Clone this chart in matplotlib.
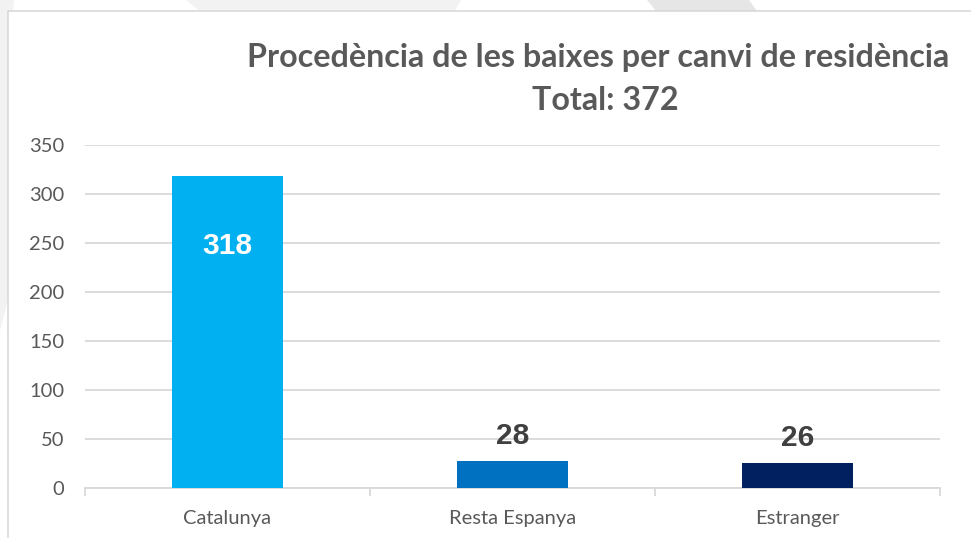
import matplotlib
matplotlib.use("Agg")
import matplotlib.pyplot as plt
from matplotlib.patches import Polygon, Rectangle

categories = ["Catalunya", "Resta Espanya", "Estranger"]
values = [318, 28, 26]
bar_colors = ["#00B0F0", "#0070C0", "#002060"]
title_line1 = "Procedència de les baixes per canvi de residència"
title_line2 = "Total: 372"
yticks = [0, 50, 100, 150, 200, 250, 300, 350]

W, H = 971, 538
fig = plt.figure(figsize=(W / 100, H / 100), dpi=100)
fig.patch.set_facecolor("white")

def fx(px):
    return px / W

def fy(py):
    return 1 - py / H

# faint background decorations
for pts, col in [
    ([(0, 0), (14, 0), (8, 60), (8, 300), (0, 330)], "#f2f2f2"),
    ([(186, 0), (461, 0), (455, 11), (200, 11)], "#f2f2f2"),
    ([(647, 0), (749, 0), (757, 11), (656, 11)], "#e6e6e6"),
]:
    fig.patches.append(Polygon([(fx(x), fy(y)) for x, y in pts], closed=True,
                               transform=fig.transFigure, facecolor=col,
                               edgecolor="none", zorder=-3))

# chart area border
fig.patches.append(Rectangle((fx(8), fy(545)), fx(980) - fx(8), fy(11) - fy(545),
                             transform=fig.transFigure, facecolor="white",
                             edgecolor="#d9d9d9", lw=1.2, zorder=-2))

ax = fig.add_axes([fx(85), fy(488), fx(940) - fx(85), fy(145) - fy(488)])
ax.set_facecolor("none")
x = list(range(len(categories)))
bars = ax.bar(x, values, width=0.386, color=bar_colors, zorder=3)

ax.set_xlim(-0.5, len(categories) - 0.5)
ax.set_ylim(0, 350)
ax.set_yticks(yticks)
ax.set_yticklabels([str(v) for v in yticks])
ax.yaxis.grid(True, color="#d9d9d9", lw=1.3, zorder=0)
ax.set_axisbelow(True)
for s in ["top", "right", "left"]:
    ax.spines[s].set_visible(False)
ax.spines["bottom"].set_color("#d9d9d9")
ax.spines["bottom"].set_linewidth(1.3)
ax.tick_params(axis="y", length=0, pad=15, labelsize=14.5, labelcolor="#595959")
ax.set_xticks([i - 0.5 for i in range(len(categories) + 1)], minor=False)
ax.set_xticklabels([""] * (len(categories) + 1))
ax.tick_params(axis="x", which="major", length=6, color="#d9d9d9", width=1.3)
ax.set_xticks(x, minor=True)
ax.set_xticklabels(categories, minor=True)
ax.tick_params(axis="x", which="minor", length=0, pad=16, labelsize=14.5,
               labelcolor="#595959")
for lab in ax.get_yticklabels() + ax.get_xticklabels(minor=True):
    lab.set_fontfamily("Lato")

# data labels
for i, v in enumerate(values):
    if v > 100:
        ax.text(i, v - 71, str(v), ha="center", va="center", color="white",
                fontsize=21.5, fontweight="bold", family="Liberation Sans", zorder=4)
    else:
        ax.text(i, v + 25, str(v), ha="center", va="center", color="#404040",
                fontsize=21.5, fontweight="bold", family="Liberation Sans", zorder=4)

fig.text(fx(598), fy(67), title_line1, ha="center", va="baseline",
         fontsize=23.2, fontweight="bold", color="#595959", family="Lato")
fig.text(fx(605), fy(110), title_line2, ha="center", va="baseline",
         fontsize=23.2, fontweight="bold", color="#595959", family="Lato")

fig.savefig("out.png", dpi=100, facecolor=fig.get_facecolor())
